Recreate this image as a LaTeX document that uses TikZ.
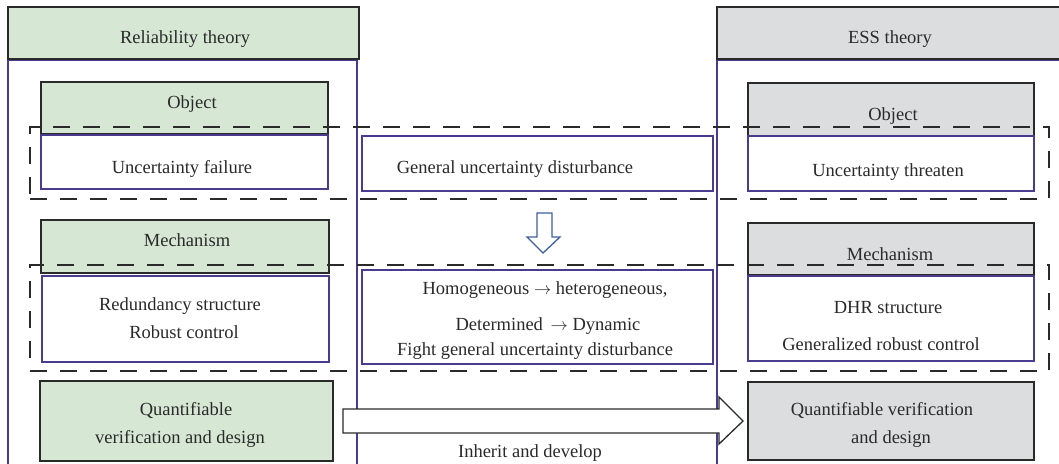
\documentclass[tikz,border=0pt]{standalone}
\usepackage{fontspec}
\setmainfont{Liberation Serif}
\usetikzlibrary{calc}
\definecolor{leafgreen}{HTML}{D6E8D4}
\definecolor{ashgray}{HTML}{DCDDDF}
\definecolor{boxpurple}{HTML}{4B3B8F}
\definecolor{inkdark}{HTML}{2A2A2A}
\definecolor{arrowblue}{HTML}{3E5F9C}
\begin{document}
\begin{tikzpicture}[x=1pt,y=-1pt,
  every node/.style={inner sep=0pt, outer sep=0pt},
  txt/.style={font=\fontsize{18.5}{22}\selectfont, text=inkdark, anchor=base},
  column/.style={draw=boxpurple, line width=1.2pt, fill=white},
  greenbox/.style={draw=inkdark, line width=1.3pt, fill=leafgreen},
  graybox/.style={draw=inkdark, line width=1.3pt, fill=ashgray},
  plainbox/.style={draw=boxpurple, line width=1.2pt, fill=white},
  band/.style={draw=inkdark, line width=1.3pt, dash pattern=on 17pt off 13pt},
  hollowdown/.style={draw=arrowblue, line width=1.3pt, fill=white},
  hollowright/.style={draw=inkdark, line width=1.3pt, fill=white}]
\useasboundingbox (0,0) rectangle (1059,463);
\clip (0,0) rectangle (1059,463);

% column frames
\node[column, minimum width=349pt, minimum height=420pt] (relcol) at (182.5,270) {};
\node[column, minimum width=360pt, minimum height=420pt] (esscol) at (897,270) {};

% column headers
\node[greenbox, minimum width=351pt, minimum height=52pt] (relhead) at (183.5,33) {};
\node[graybox, minimum width=360pt, minimum height=52pt] (esshead) at (897,33) {};
\node[txt] (relheadtxt) at (185,43) {Reliability theory};
\node[txt] (essheadtxt) at (890,43) {ESS theory};

% object row
\node[greenbox, minimum width=287pt, minimum height=52pt] (relobj) at (184.5,108) {};
\node[plainbox, minimum width=287pt, minimum height=54pt] (relunc) at (184.5,162) {};
\node[graybox, minimum width=286pt, minimum height=53pt] (essobj) at (891,109.5) {};
\node[plainbox, minimum width=286pt, minimum height=55pt] (essunc) at (891,163.5) {};
\node[plainbox, minimum width=351pt, minimum height=55pt] (gen) at (537.5,163.5) {};
\node[txt] (relobjtxt) at (192,108) {Object};
\node[txt] (relunctxt) at (182,173) {Uncertainty failure};
\node[txt] (essobjtxt) at (893,120) {Object};
\node[txt] (essunctxt) at (888,176) {Uncertainty threaten};
\node[txt] (gentxt) at (515,173) {General uncertainty disturbance};

% mechanism row
\node[greenbox, minimum width=288pt, minimum height=53pt] (relmech) at (185,246.5) {};
\node[plainbox, minimum width=287pt, minimum height=86pt] (relred) at (185.5,319) {};
\node[graybox, minimum width=286pt, minimum height=52pt] (essmech) at (891,249) {};
\node[plainbox, minimum width=286pt, minimum height=85pt] (essdhr) at (891,318.5) {};
\node[plainbox, minimum width=351pt, minimum height=94pt] (mid) at (537.5,317) {};
\node[txt] (relmechtxt) at (187,246) {Mechanism};
\node[txt] (relredtxtA) at (180,310) {Redundancy structure};
\node[txt] (relredtxtB) at (184,338) {Robust control};
\node[txt] (essmechtxt) at (890,260) {Mechanism};
\node[txt] (essdhrtxtA) at (888,313) {DHR structure};
\node[txt] (essdhrtxtB) at (881,350) {Generalized robust control};
\node[txt] (midtxtA) at (545,294) {Homogeneous $\rightarrow$ heterogeneous,};
\node[txt] (midtxtB) at (548,330) {Determined \,$\rightarrow$ Dynamic};
\node[txt] (midtxtC) at (535,355) {Fight general uncertainty disturbance};

% quantification row
\node[greenbox, minimum width=293pt, minimum height=80pt] (relq) at (186.5,421) {};
\node[graybox, minimum width=286pt, minimum height=78pt] (essq) at (891,421) {};
\node[txt] (relqtxtA) at (186,415) {Quantifiable};
\node[txt] (relqtxtB) at (180,443) {verification and design};
\node[txt] (essqtxtA) at (882,415) {Quantifiable verification};
\node[txt] (essqtxtB) at (891,443) {and design};

% dashed bands around the object and mechanism rows
\node[band, minimum width=1019pt, minimum height=72pt] (objband) at (539.5,163) {};
\node[band, minimum width=1019pt, minimum height=106pt] (mechband) at (539.5,318) {};

% hollow arrow from the disturbance box down to the mechanism box
\draw[hollowdown]
  ($(gen.south)+(-0.5,22)$) -- ($(gen.south)+(14.5,22)$) -- ($(gen.south)+(14.5,46)$)
  -- ($(gen.south)+(22.5,46)$) -- ($(gen.south)+(5.5,62)$) -- ($(gen.south)+(-10.5,46)$)
  -- ($(gen.south)+(-0.5,46)$) -- cycle;

% hollow arrow from the reliability side to the ESS side
\draw[hollowright]
  ($(relq.east)+(10,-12)$) -- ($(essq.west)+(-29,-12)$) -- ($(essq.west)+(-29,-24)$)
  -- ($(essq.west)+(-5,0)$) -- ($(essq.west)+(-29,23)$) -- ($(essq.west)+(-29,12)$)
  -- ($(relq.east)+(10,12)$) -- cycle;
\node[txt] (inherit) at (530,457) {Inherit and develop};
\end{tikzpicture}
\end{document}
